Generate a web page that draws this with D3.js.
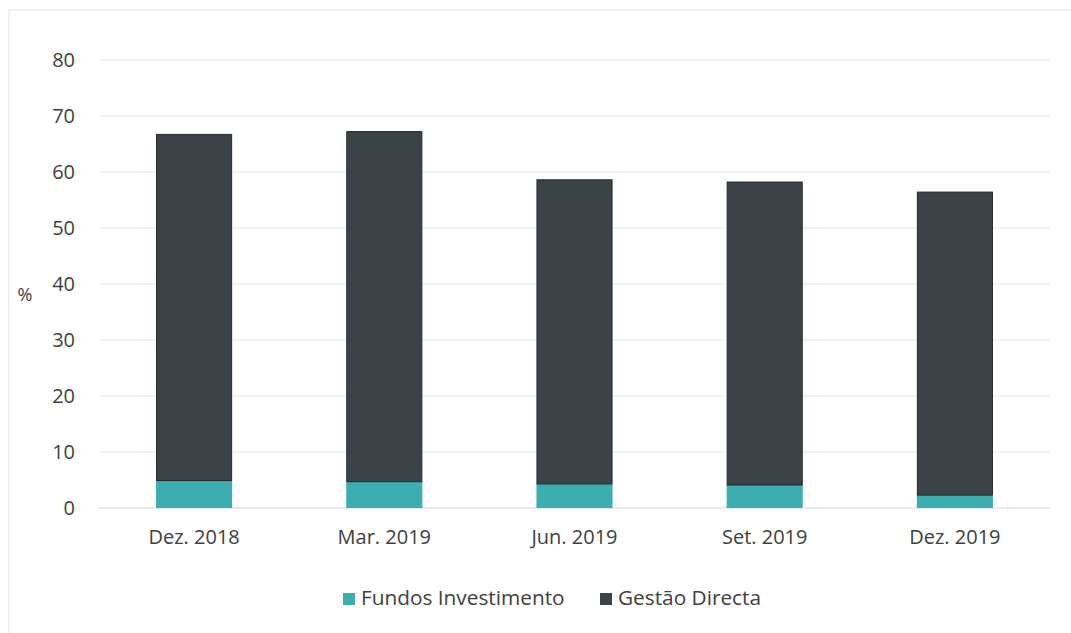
<!DOCTYPE html>
<html>
<head>
<meta charset="utf-8">
<script src="https://cdn.jsdelivr.net/npm/d3@7"></script>
<style>
  body { margin: 0; background: #fff; }
  text { font-family: "Open Sans", sans-serif; fill: #404040; }
</style>
</head>
<body>
<svg id="chart" width="1071" height="633"></svg>
<script>
var periods = ["Dez. 2018", "Mar. 2019", "Jun. 2019", "Set. 2019", "Dez. 2019"];
var fundos = [4.9, 4.7, 4.3, 4.1, 2.3];
var gestao = [61.9, 62.6, 54.4, 54.2, 54.2];
var yTicks = [0, 10, 20, 30, 40, 50, 60, 70, 80];
var seriesNames = ["Fundos Investimento", "Gestão Directa"];
var seriesCols = ["#3aaeb0", "#3c4347"];

var svg = d3.select("#chart");

// faint frame of the scanned chart area
svg.append("rect")
    .attr("x", 9).attr("y", 10)
    .attr("width", 1080).attr("height", 640)
    .attr("fill", "none")
    .attr("stroke", "#e4e4e4")
    .attr("stroke-width", 1);

var plotLeft = 99, plotRight = 1050, plotTop = 60, plotBottom = 508;

var scaleX = d3.scaleBand()
    .domain(periods)
    .range([plotLeft, plotRight])
    .paddingInner(0.6)
    .paddingOuter(0.3);

var scaleY = d3.scaleLinear()
    .domain([0, 80])
    .range([plotBottom, plotTop]);

// gridlines
svg.append("g")
    .selectAll("line")
    .data(yTicks)
    .enter()
    .append("line")
    .attr("x1", plotLeft)
    .attr("x2", plotRight)
    .attr("y1", function(d) { return scaleY(d) })
    .attr("y2", function(d) { return scaleY(d) })
    .attr("stroke", function(d) { return d == 0 ? "#d6d6d6" : "#e6e6e6" })
    .attr("stroke-width", 1);

var yAxis = d3.axisLeft(scaleY).tickValues(yTicks).tickSize(0).tickPadding(24);
svg.append("g")
    .attr("transform", "translate(" + plotLeft + ",0)")
    .call(yAxis)
    .call(function(g) { g.select(".domain").remove() })
    .selectAll("text")
    .style("font-size", "20px")
    .style("font-family", "\"Open Sans\", sans-serif")
    .attr("fill", "#404040");

var xAxis = d3.axisBottom(scaleX).tickSize(0).tickPadding(22);
svg.append("g")
    .attr("transform", "translate(0," + plotBottom + ")")
    .call(xAxis)
    .call(function(g) { g.select(".domain").remove() })
    .selectAll("text")
    .style("font-size", "20px")
    .style("font-family", "\"Open Sans\", sans-serif")
    .attr("fill", "#404040");

svg.append("text")
    .attr("x", 25)
    .attr("y", 301)
    .attr("text-anchor", "middle")
    .style("font-size", "18px")
    .text("%");

// stacked bars
var bars = svg.append("g");
bars.selectAll(".fundos")
    .data(fundos)
    .enter()
    .append("rect")
    .attr("class", "fundos")
    .attr("x", function(d, i) { return scaleX(periods[i]) })
    .attr("width", scaleX.bandwidth())
    .attr("y", function(d) { return scaleY(d) })
    .attr("height", function(d) { return scaleY(0) - scaleY(d) })
    .attr("fill", seriesCols[0]);

bars.selectAll(".gestao")
    .data(gestao)
    .enter()
    .append("rect")
    .attr("class", "gestao")
    .attr("x", function(d, i) { return scaleX(periods[i]) + 0.5 })
    .attr("width", scaleX.bandwidth() - 1)
    .attr("y", function(d, i) { return scaleY(d + fundos[i]) + 0.5 })
    .attr("height", function(d, i) { return scaleY(fundos[i]) - scaleY(d + fundos[i]) - 0.5 })
    .attr("fill", seriesCols[1])
    .attr("stroke", "#22272a")
    .attr("stroke-width", 1);

// legend
var legendX = [343, 600];
var legend = svg.append("g");
seriesNames.forEach(function(name, i) {
    legend.append("rect")
        .attr("x", legendX[i])
        .attr("y", 593)
        .attr("width", 12)
        .attr("height", 12)
        .attr("fill", seriesCols[i]);
    legend.append("text")
        .attr("x", legendX[i] + 18)
        .attr("y", 605)
        .style("font-size", "20.8px")
        .text(name);
});
</script>
</body>
</html>
